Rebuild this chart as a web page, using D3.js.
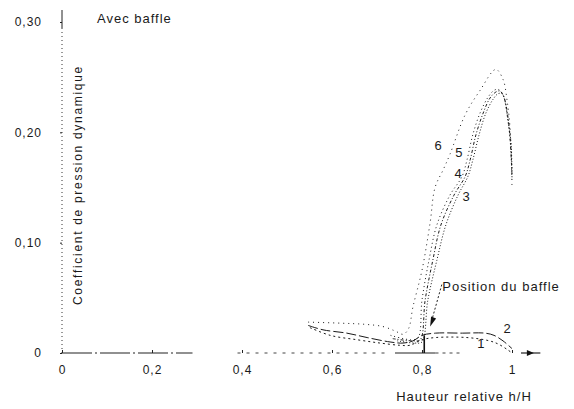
<!DOCTYPE html>
<html>
<head>
<meta charset="utf-8">
<script src="https://cdn.jsdelivr.net/npm/d3@7"></script>
<style>
body { margin: 0; background: #fff; }
text { font-family: "Liberation Sans", Arial, sans-serif; fill: #1a1a1a; }
</style>
</head>
<body>
<svg id="chart" width="574" height="409"></svg>
<script>
// axis ticks
var xTicks = [0, 0.2, 0.4, 0.6, 0.8, 1];
var xTickLabels = ["0", "0,2", "0,4", "0,6", "0,8", "1"];
var yTicks = [0, 0.1, 0.2, 0.3];
var yTickLabels = ["0", "0,10", "0,20", "0,30"];

// curves: [h/H, coefficient]
var curve1 = [[0.551, 0.023], [0.596, 0.016], [0.656, 0.012], [0.707, 0.009], [0.751, 0.007], [0.773, 0.007],
              [0.80, 0.012], [0.83, 0.014], [0.90, 0.014], [0.95, 0.011], [0.97, 0.008], [0.99, 0.003], [1.0, 0.0]];
var curve2 = [[0.547, 0.025], [0.58, 0.021], [0.633, 0.018], [0.678, 0.014], [0.729, 0.010], [0.758, 0.009],
              [0.78, 0.011], [0.80, 0.016], [0.83, 0.018], [0.89, 0.018], [0.94, 0.018], [0.96, 0.016],
              [0.98, 0.011], [1.0, 0.004]];
var curve3 = [[0.745, 0.011], [0.785, 0.009], [0.80, 0.010], [0.813, 0.048], [0.833, 0.084], [0.853, 0.116],
              [0.88, 0.143], [0.902, 0.160], [0.913, 0.175], [0.927, 0.198], [0.942, 0.2175], [0.958, 0.230],
              [0.969, 0.235], [0.978, 0.235], [0.984, 0.229], [0.991, 0.211], [0.998, 0.189], [1.0, 0.157]];
var curve4 = [[0.735, 0.013], [0.78, 0.011], [0.796, 0.012], [0.807, 0.048], [0.824, 0.084], [0.842, 0.116],
              [0.871, 0.143], [0.896, 0.160], [0.907, 0.175], [0.92, 0.198], [0.936, 0.2175], [0.951, 0.231],
              [0.964, 0.2365], [0.973, 0.2375], [0.982, 0.232], [0.991, 0.214], [0.996, 0.193], [1.0, 0.161]];
var curve5 = [[0.73, 0.016], [0.775, 0.012], [0.791, 0.0136], [0.80, 0.048], [0.8156, 0.0843], [0.833, 0.116],
              [0.862, 0.143], [0.889, 0.160], [0.90, 0.175], [0.913, 0.198], [0.929, 0.2175], [0.947, 0.232],
              [0.96, 0.238], [0.969, 0.239], [0.98, 0.234], [0.989, 0.216], [0.996, 0.193], [1.0, 0.166]];
var curve6 = [[0.547, 0.028], [0.622, 0.027], [0.673, 0.026], [0.713, 0.024], [0.74, 0.02], [0.758, 0.017],
              [0.77, 0.022], [0.78, 0.042], [0.80, 0.075], [0.818, 0.118], [0.829, 0.15], [0.847, 0.166],
              [0.862, 0.18], [0.896, 0.216], [0.929, 0.238], [0.964, 0.257], [0.98, 0.248], [0.989, 0.229],
              [0.996, 0.202], [1.0, 0.15]];

var curveNames = ["1", "2", "3", "4", "5", "6"];
var curveLabelAt = [[0.931, 0.009], [0.989, 0.022], [0.898, 0.142], [0.88, 0.163], [0.882, 0.182], [0.836, 0.188]];

var curves = [curve1, curve2, curve3, curve4, curve5, curve6];
var dashes = ["2,3", "10,3", "1,2", "3,2,1,2", "1,3", "1,4"];

var svg = d3.select("#chart");

var x = d3.scaleLinear().domain([0, 1]).range([62, 512]);
var y = d3.scaleLinear().domain([0, 0.3]).range([353, 22]);

// x axis: tick labels only, the base line is drawn by hand below
var xAxis = svg.append("g")
    .attr("transform", "translate(0," + y(0) + ")")
    .call(d3.axisBottom(x).tickValues(xTicks).tickSize(-3).tickPadding(12)
        .tickFormat(function(d, i) { return xTickLabels[i]; }));
xAxis.select(".domain").remove();
xAxis.selectAll("line").attr("stroke", "#222");
xAxis.selectAll("text").style("font-size", "12px").style("letter-spacing", "1px")
    .style("font-family", "'Liberation Sans', Arial, sans-serif").attr("fill", "#1a1a1a");

var yAxis = svg.append("g")
    .attr("transform", "translate(" + x(0) + ",0)")
    .call(d3.axisLeft(y).tickValues(yTicks).tickSize(2).tickPadding(18)
        .tickFormat(function(d, i) { return yTickLabels[i]; }));
yAxis.select(".domain").remove();
yAxis.selectAll("line").attr("stroke", "#222");
yAxis.selectAll("text").style("font-size", "12px").style("letter-spacing", "1px")
    .style("font-family", "'Liberation Sans', Arial, sans-serif").attr("fill", "#1a1a1a");

// hand drawn looking axis lines
svg.append("line").attr("x1", x(0)).attr("x2", x(0)).attr("y1", y(0)).attr("y2", 28)
    .attr("stroke", "#333").attr("stroke-dasharray", "1,3");
svg.append("line").attr("x1", x(0)).attr("x2", x(0)).attr("y1", 28).attr("y2", 10)
    .attr("stroke", "#222");
svg.append("line").attr("x1", x(0)).attr("x2", x(0.29)).attr("y1", y(0)).attr("y2", y(0))
    .attr("stroke", "#222").attr("stroke-width", 1.2).attr("stroke-dasharray", "30,3,2,3");
svg.append("line").attr("x1", x(0.39)).attr("x2", x(0.73)).attr("y1", y(0)).attr("y2", y(0))
    .attr("stroke", "#444").attr("stroke-dasharray", "3,6");
svg.append("line").attr("x1", x(0.74)).attr("x2", x(0.83)).attr("y1", y(0)).attr("y2", y(0))
    .attr("stroke", "#222").attr("stroke-width", 1.2);
svg.append("line").attr("x1", x(0.83)).attr("x2", x(0.89)).attr("y1", y(0)).attr("y2", y(0))
    .attr("stroke", "#444").attr("stroke-dasharray", "3,4");

// arrow at the right end of the x axis
svg.append("line").attr("x1", x(1.02)).attr("x2", x(1.063)).attr("y1", y(0)).attr("y2", y(0))
    .attr("stroke", "#222").attr("stroke-width", 1.2);
svg.append("path")
    .attr("d", "M" + (x(1.042) - 4) + "," + (y(0) - 3) + "L" + (x(1.042) + 3) + "," + y(0) + "L" + (x(1.042) - 4) + "," + (y(0) + 3) + "Z")
    .attr("fill", "#111");

// curves
var line = d3.line()
    .x(function(d) { return x(d[0]); })
    .y(function(d) { return y(d[1]); })
    .curve(d3.curveCatmullRom.alpha(0.5));

svg.selectAll(".curve")
    .data(curves)
    .enter().append("path")
    .attr("class", "curve")
    .attr("d", line)
    .attr("fill", "none")
    .attr("stroke", "#1a1a1a")
    .attr("stroke-width", 1)
    .attr("stroke-dasharray", function(d, i) { return dashes[i]; });

// curve numbers
svg.selectAll(".clabel")
    .data(curveNames)
    .enter().append("text")
    .attr("class", "clabel")
    .attr("x", function(d, i) { return x(curveLabelAt[i][0]); })
    .attr("y", function(d, i) { return y(curveLabelAt[i][1]); })
    .attr("text-anchor", "middle")
    .attr("dy", "0.36em")
    .style("font-size", "13px")
    .text(function(d) { return d; });

// baffle
svg.append("line").attr("x1", x(0.805)).attr("x2", x(0.805)).attr("y1", y(0)).attr("y2", y(0.016))
    .attr("stroke", "#111").attr("stroke-width", 1.6);
svg.append("line").attr("x1", x(0.844)).attr("y1", y(0.062)).attr("x2", x(0.822)).attr("y2", y(0.03))
    .attr("stroke", "#222").attr("stroke-dasharray", "2,2");
var tip = [x(0.818), y(0.024)];
svg.append("path")
    .attr("d", "M" + tip[0] + "," + tip[1] + "L" + (tip[0] + 1) + "," + (tip[1] - 10) + "L" + (tip[0] + 6) + "," + (tip[1] - 8) + "Z")
    .attr("fill", "#111");
svg.append("text").attr("x", x(0.845)).attr("y", y(0.06) + 4)
    .style("font-size", "13px").style("letter-spacing", "1px")
    .text("Position du baffle");

// titles
svg.append("text").attr("x", 97).attr("y", 23)
    .style("font-size", "13px").style("letter-spacing", "1px")
    .text("Avec baffle");

svg.append("text")
    .attr("transform", "translate(82,185) rotate(-90)")
    .attr("text-anchor", "middle")
    .style("font-size", "12px").style("letter-spacing", "1.7px")
    .text("Coefficient de pression dynamique");

svg.append("text").attr("x", 464).attr("y", 401)
    .attr("text-anchor", "middle")
    .style("font-size", "13px").style("letter-spacing", "1px")
    .text("Hauteur relative h/H");
</script>
</body>
</html>
